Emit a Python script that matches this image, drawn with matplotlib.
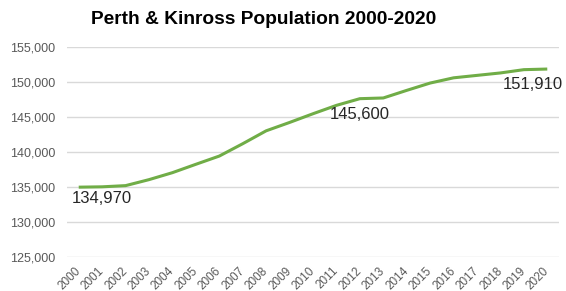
import matplotlib
matplotlib.use("Agg")
import matplotlib.pyplot as plt
from matplotlib.ticker import FuncFormatter

years = [str(y) for y in range(2000, 2021)]
population = [134970, 135020, 135190, 136050, 137050, 138250, 139430, 141200,
              143050, 144250, 145500, 146700, 147660, 147760, 148850, 149900,
              150650, 151000, 151350, 151820, 151910]
labels = [(1, "134,970"), (12, "145,600"), (19.4, "151,910")]
label_values = [134970, 147700, 151910]

plt.rcParams['font.family'] = ['Liberation Sans', 'DejaVu Sans']
fig = plt.figure(figsize=(5.66, 2.91), dpi=100)
ax = fig.add_axes([0.1184, 0.1179, 0.8692, 0.7189])

x = list(range(len(years)))
ax.plot(x, population, color='#70AD47', lw=2.2, solid_capstyle='butt', zorder=3)

ax.set_xlim(-0.5, len(years) - 0.5)
ax.set_ylim(125000, 155000)
ax.set_yticks(range(125000, 155001, 5000))
ax.yaxis.set_major_formatter(FuncFormatter(lambda v, p: f"{int(v):,}"))
ax.set_xticks(x)
ax.set_xticklabels(years, rotation=45, ha='right', rotation_mode='anchor', va='center')
ax.grid(axis='y', color='#d9d9d9', lw=1)
ax.set_axisbelow(True)
for s in ax.spines.values():
    s.set_visible(False)
ax.tick_params(axis='y', length=0, pad=8.5, labelsize=9, labelcolor='#595959')
ax.tick_params(axis='x', length=0, pad=9, labelsize=8.5, labelcolor='#595959')

offsets = [-3, -6, -6]
for (pos, txt), val, off in zip(labels, label_values, offsets):
    ax.annotate(txt, xy=(pos, val), xytext=(0, off), textcoords='offset points',
                ha='center', va='top', fontsize=12, color='#262626')

fig.text(264 / 566, 1 - 20 / 291, "Perth & Kinross Population 2000-2020",
         ha='center', va='center', fontsize=13.8, fontweight='bold', color='black')

fig.savefig("out.png", dpi=100, facecolor='white')
